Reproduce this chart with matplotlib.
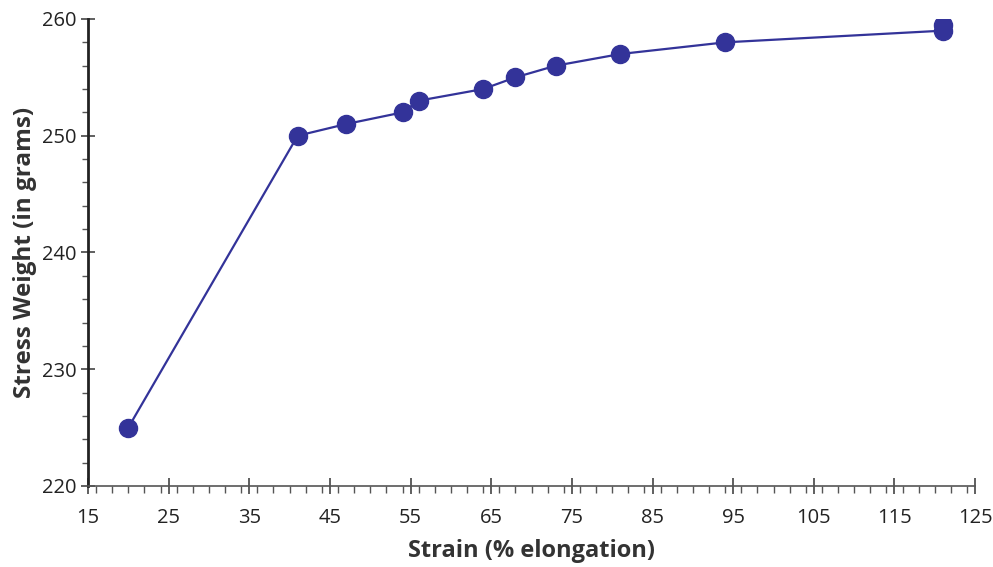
import matplotlib
matplotlib.use("Agg")
import matplotlib.pyplot as plt
from matplotlib.ticker import MultipleLocator

strain = [20, 41, 47, 54, 56, 64, 68, 73, 81, 94, 121]
stress = [225, 250, 251, 252, 253, 254, 255, 256, 257, 258, 259]
extra_x = [121]
extra_y = [259.5]

plt.rcParams['font.family'] = ['Open Sans', 'DejaVu Sans']

fig = plt.figure(figsize=(9.93, 5.67), dpi=100)
ax = fig.add_axes([0.0886, 0.1429, 0.8934, 0.8236])

color = '#333399'
ax.plot(strain, stress, color=color, lw=1.6, zorder=2)
ax.plot(strain, stress, 'o', color=color, ms=13, zorder=3)
ax.plot(extra_x, extra_y, 'o', color=color, ms=13, zorder=3)

ax.set_xlim(15, 125)
ax.set_ylim(220, 260)
ax.xaxis.set_minor_locator(MultipleLocator(2))
ax.yaxis.set_major_locator(MultipleLocator(10))
ax.yaxis.set_minor_locator(MultipleLocator(2))
ax.set_xticks([15, 25, 35, 45, 55, 65, 75, 85, 95, 105, 115, 125])

for s in ['top', 'right']:
    ax.spines[s].set_visible(False)
ax.spines['left'].set_color('#222222')
ax.spines['left'].set_linewidth(2.0)
ax.spines['bottom'].set_color('#555555')
ax.spines['bottom'].set_linewidth(1.2)

ax.tick_params(axis='x', which='major', direction='inout', length=12, width=1.2,
               color='#444444', labelsize=14.5, pad=10, labelcolor='#222222')
ax.tick_params(axis='x', which='minor', direction='out', length=5, width=1.0, color='#555555')
ax.tick_params(axis='y', which='major', direction='inout', length=10, width=1.2,
               color='#444444', labelsize=14.5, pad=3, labelcolor='#222222')
ax.tick_params(axis='y', which='minor', direction='out', length=4, width=1.0, color='#555555')

ax.set_xlabel('Strain (% elongation)', fontsize=17, fontweight='bold', color='#333333', labelpad=8)
ax.set_ylabel('Stress Weight (in grams)', fontsize=17.5, fontweight='bold', color='#333333', labelpad=4)

fig.savefig('out.png', dpi=100)
